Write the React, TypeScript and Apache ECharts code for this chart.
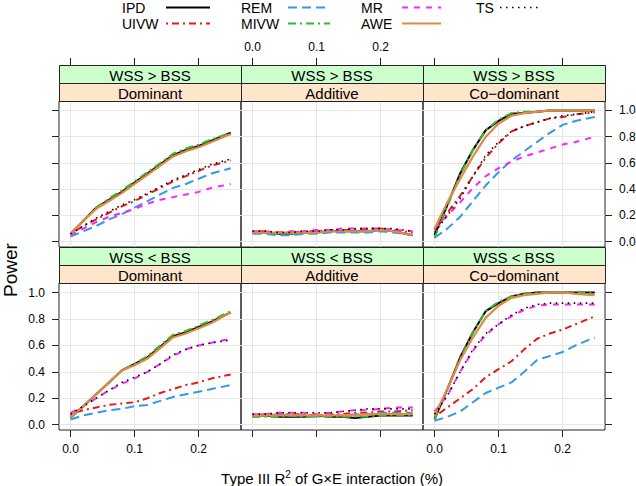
import { useEffect, useRef } from 'react';
import * as echarts from 'echarts';

// ---------------- data ----------------
const X = [0, 0.02, 0.04, 0.06, 0.08, 0.1, 0.12, 0.14, 0.16, 0.18, 0.2, 0.22, 0.25];
const METHODS = ['IPD', 'UIVW', 'REM', 'MIVW', 'MR', 'AWE', 'TS'];
const LEGEND_ORDER = ['IPD', 'REM', 'MR', 'TS', 'UIVW', 'MIVW', 'AWE'];
const ROW_LABELS = ['WSS > BSS', 'WSS < BSS'];
const COL_LABELS = ['Dominant', 'Additive', 'Co\u2212dominant'];
const X_TICKS = [0, 0.1, 0.2];
const Y_TICKS = [0, 0.2, 0.4, 0.6, 0.8, 1.0];

// WSS > BSS
const gtDominant: Record<string, number[]> = {
  IPD: [0.06, 0.16, 0.26, 0.32, 0.38, 0.45, 0.52, 0.59, 0.66, 0.7, 0.73, 0.77, 0.83],
  UIVW: [0.06, 0.12, 0.17, 0.22, 0.27, 0.31, 0.36, 0.41, 0.46, 0.5, 0.54, 0.58, 0.62],
  REM: [0.04, 0.08, 0.12, 0.17, 0.21, 0.26, 0.31, 0.36, 0.41, 0.44, 0.48, 0.52, 0.56],
  MIVW: [0.06, 0.16, 0.26, 0.33, 0.39, 0.46, 0.53, 0.6, 0.67, 0.71, 0.74, 0.78, 0.83],
  MR: [0.05, 0.1, 0.15, 0.19, 0.22, 0.25, 0.29, 0.32, 0.34, 0.36, 0.38, 0.41, 0.44],
  AWE: [0.06, 0.16, 0.25, 0.31, 0.37, 0.44, 0.51, 0.58, 0.65, 0.69, 0.72, 0.76, 0.82],
  TS: [0.06, 0.12, 0.18, 0.23, 0.28, 0.32, 0.37, 0.42, 0.47, 0.51, 0.55, 0.59, 0.63],
};
const gtAdditive: Record<string, number[]> = {
  IPD: [0.07, 0.07, 0.06, 0.06, 0.07, 0.07, 0.08, 0.08, 0.08, 0.08, 0.09, 0.08, 0.05],
  UIVW: [0.08, 0.08, 0.07, 0.07, 0.08, 0.08, 0.09, 0.09, 0.09, 0.1, 0.1, 0.09, 0.07],
  REM: [0.06, 0.06, 0.05, 0.05, 0.06, 0.06, 0.07, 0.07, 0.07, 0.07, 0.08, 0.07, 0.05],
  MIVW: [0.07, 0.07, 0.06, 0.06, 0.07, 0.07, 0.08, 0.08, 0.08, 0.08, 0.09, 0.08, 0.05],
  MR: [0.08, 0.08, 0.07, 0.08, 0.08, 0.09, 0.09, 0.1, 0.1, 0.1, 0.1, 0.09, 0.08],
  AWE: [0.07, 0.07, 0.07, 0.07, 0.07, 0.07, 0.08, 0.08, 0.08, 0.08, 0.09, 0.08, 0.05],
  TS: [0.08, 0.08, 0.07, 0.07, 0.08, 0.08, 0.09, 0.09, 0.1, 0.1, 0.1, 0.1, 0.08],
};
const gtCodominant: Record<string, number[]> = {
  IPD: [0.05, 0.28, 0.52, 0.7, 0.85, 0.92, 0.975, 0.98, 0.99, 1.0, 1.0, 1.0, 1.0],
  UIVW: [0.09, 0.22, 0.35, 0.5, 0.64, 0.75, 0.84, 0.88, 0.91, 0.94, 0.95, 0.97, 0.985],
  REM: [0.03, 0.1, 0.19, 0.31, 0.43, 0.53, 0.62, 0.69, 0.76, 0.83, 0.89, 0.92, 0.95],
  MIVW: [0.03, 0.27, 0.51, 0.7, 0.85, 0.93, 0.98, 0.99, 0.99, 1.0, 1.0, 1.0, 1.0],
  MR: [0.1, 0.2, 0.3, 0.41, 0.5, 0.56, 0.61, 0.65, 0.68, 0.71, 0.74, 0.76, 0.8],
  AWE: [0.1, 0.3, 0.48, 0.65, 0.8, 0.9, 0.96, 0.98, 0.99, 1.0, 1.0, 1.0, 1.0],
  TS: [0.07, 0.2, 0.33, 0.5, 0.66, 0.76, 0.84, 0.88, 0.91, 0.94, 0.96, 0.97, 0.99],
};
// WSS < BSS
const ltDominant: Record<string, number[]> = {
  IPD: [0.06, 0.14, 0.23, 0.32, 0.41, 0.46, 0.51, 0.59, 0.67, 0.7, 0.74, 0.78, 0.85],
  UIVW: [0.08, 0.11, 0.13, 0.15, 0.16, 0.17, 0.2, 0.24, 0.27, 0.3, 0.32, 0.35, 0.38],
  REM: [0.04, 0.07, 0.09, 0.11, 0.12, 0.14, 0.15, 0.18, 0.21, 0.23, 0.25, 0.27, 0.3],
  MIVW: [0.05, 0.14, 0.23, 0.32, 0.41, 0.46, 0.52, 0.6, 0.68, 0.71, 0.75, 0.79, 0.86],
  MR: [0.09, 0.14, 0.2, 0.26, 0.31, 0.35, 0.4, 0.46, 0.52, 0.57, 0.6, 0.62, 0.65],
  AWE: [0.06, 0.14, 0.23, 0.32, 0.41, 0.45, 0.5, 0.58, 0.66, 0.69, 0.73, 0.77, 0.85],
  TS: [0.08, 0.14, 0.2, 0.26, 0.32, 0.36, 0.4, 0.46, 0.53, 0.57, 0.6, 0.62, 0.64],
};
const ltAdditive: Record<string, number[]> = {
  IPD: [0.07, 0.07, 0.06, 0.06, 0.06, 0.07, 0.06, 0.06, 0.05, 0.06, 0.07, 0.07, 0.07],
  UIVW: [0.07, 0.08, 0.08, 0.08, 0.08, 0.07, 0.08, 0.08, 0.09, 0.09, 0.1, 0.1, 0.11],
  REM: [0.06, 0.07, 0.08, 0.07, 0.07, 0.06, 0.07, 0.07, 0.08, 0.08, 0.09, 0.09, 0.09],
  MIVW: [0.06, 0.06, 0.06, 0.07, 0.06, 0.06, 0.06, 0.06, 0.06, 0.06, 0.07, 0.07, 0.07],
  MR: [0.08, 0.08, 0.09, 0.09, 0.09, 0.08, 0.09, 0.1, 0.11, 0.11, 0.12, 0.13, 0.13],
  AWE: [0.07, 0.07, 0.07, 0.07, 0.07, 0.07, 0.07, 0.07, 0.07, 0.08, 0.08, 0.08, 0.08],
  TS: [0.08, 0.08, 0.09, 0.09, 0.09, 0.09, 0.09, 0.1, 0.11, 0.12, 0.12, 0.12, 0.12],
};
const ltCodominant: Record<string, number[]> = {
  IPD: [0.04, 0.27, 0.51, 0.7, 0.86, 0.92, 0.97, 0.99, 1.0, 1.0, 1.0, 1.0, 1.0],
  UIVW: [0.06, 0.13, 0.2, 0.27, 0.36, 0.42, 0.48, 0.57, 0.65, 0.69, 0.72, 0.76, 0.82],
  REM: [0.03, 0.06, 0.1, 0.17, 0.24, 0.28, 0.32, 0.4, 0.49, 0.52, 0.55, 0.6, 0.66],
  MIVW: [0.04, 0.27, 0.5, 0.7, 0.86, 0.93, 0.97, 0.99, 1.0, 1.0, 1.0, 1.0, 1.0],
  MR: [0.1, 0.22, 0.4, 0.56, 0.68, 0.76, 0.82, 0.87, 0.9, 0.91, 0.91, 0.91, 0.91],
  AWE: [0.07, 0.27, 0.49, 0.66, 0.81, 0.9, 0.96, 0.98, 0.99, 1.0, 1.0, 0.99, 0.98],
  TS: [0.08, 0.22, 0.4, 0.57, 0.69, 0.76, 0.83, 0.88, 0.91, 0.92, 0.92, 0.92, 0.92],
};

const PANEL_DATA = [gtDominant, gtAdditive, gtCodominant, ltDominant, ltAdditive, ltCodominant];

// ---------------- styles / layout ----------------
const STYLE: Record<string, { color: string; width: number; dash: any }> = {
  IPD: { color: '#000000', width: 2, dash: 'solid' },
  UIVW: { color: '#E31A1C', width: 2, dash: [2, 4, 7, 4] },
  REM: { color: '#3399E6', width: 2, dash: [9, 5] },
  MIVW: { color: '#33B833', width: 2, dash: [8, 4, 2, 4] },
  MR: { color: '#FF22FF', width: 2, dash: [6, 6] },
  AWE: { color: '#E08A45', width: 2.2, dash: 'solid' },
  TS: { color: '#000000', width: 1.6, dash: [1.5, 4.5] },
};

const FONT = '"Liberation Sans", Arial, Helvetica, sans-serif';
const COL_LEFT = [59, 241, 423];
const PANEL_W = 182;
const STRIP_TOP = [65, 247];
const STRIP_H = 18;
const PLOT_TOP = [101, 283];
const PLOT_BOTTOM = [247, 430];
const X_MIN = -0.018;
const X_MAX = 0.266;
const Y_MIN = -0.04;
const Y_MAX = 1.072;
const AXIS_COLOR = '#222222';
const GRID_COLOR = '#E6E6E6';

const LEG_TEXT_X = [122, 241, 361, 476];
const LEG_LINE = [
  [166, 210],
  [288, 330],
  [402, 441],
  [500, 538],
];
const LEG_Y = [7.5, 23.5];

const fmt = (v: number) => v.toFixed(1);

export default function App() {
  const ref = useRef<HTMLDivElement>(null);

  useEffect(() => {
    document.body.style.margin = '0';
    const chart = echarts.init(ref.current!, null, { renderer: 'svg' });

    const grids: any[] = [];
    const xAxes: any[] = [];
    const yAxes: any[] = [];
    const series: any[] = [];
    const graphics: any[] = [];

    PANEL_DATA.forEach((d, i) => {
      const r = Math.floor(i / 3);
      const c = i % 3;
      grids.push({
        left: COL_LEFT[c],
        top: PLOT_TOP[r],
        width: PANEL_W,
        height: PLOT_BOTTOM[r] - PLOT_TOP[r],
        show: true,
        borderColor: AXIS_COLOR,
        borderWidth: 1,
        backgroundColor: 'rgba(0,0,0,0)',
        containLabel: false,
        outerBoundsMode: 'none',
      });
      xAxes.push({
        type: 'value',
        gridIndex: i,
        min: X_MIN,
        max: X_MAX,
        position: 'bottom',
        axisLine: { show: false, onZero: false },
        axisTick: {
          show: r === 1,
          length: 7,
          inside: false,
          customValues: X_TICKS,
          lineStyle: { color: AXIS_COLOR },
        },
        axisLabel: {
          show: r === 1 && c !== 1,
          customValues: X_TICKS,
          margin: 13,
          fontSize: 12,
          color: '#000',
          fontFamily: FONT,
          formatter: fmt,
        },
        splitLine: { show: true, lineStyle: { color: GRID_COLOR, width: 1 } },
      });
      yAxes.push({
        type: 'value',
        gridIndex: i,
        min: Y_MIN,
        max: Y_MAX,
        position: c === 2 ? 'right' : 'left',
        axisLine: { show: false, onZero: false },
        axisTick: {
          show: c !== 1,
          length: 7,
          inside: false,
          customValues: Y_TICKS,
          lineStyle: { color: AXIS_COLOR },
        },
        axisLabel: {
          show: (c === 0 && r === 1) || (c === 2 && r === 0),
          customValues: Y_TICKS,
          margin: 14,
          fontSize: 12,
          color: '#000',
          fontFamily: FONT,
          formatter: fmt,
        },
        splitLine: { show: true, lineStyle: { color: GRID_COLOR, width: 1 } },
      });
      METHODS.forEach((m, k) => {
        const st = STYLE[m];
        series.push({
          type: 'line',
          name: m,
          xAxisIndex: i,
          yAxisIndex: i,
          data: X.map((x, j) => [x, d[m][j]]),
          symbol: 'none',
          showSymbol: false,
          silent: true,
          z: 2 + k,
          lineStyle: { color: st.color, width: st.width, type: st.dash },
          itemStyle: { color: st.color },
        });
      });
    });

    // top tick axes (above the strips of the upper row)
    COL_LEFT.forEach((left, j) => {
      const gi = grids.length;
      grids.push({
        left,
        top: STRIP_TOP[0],
        width: PANEL_W,
        height: PLOT_TOP[0] - STRIP_TOP[0],
        show: false,
        containLabel: false,
        outerBoundsMode: 'none',
      });
      xAxes.push({
        type: 'value',
        gridIndex: gi,
        min: X_MIN,
        max: X_MAX,
        position: 'top',
        axisLine: { show: false, onZero: false },
        axisTick: {
          show: true,
          length: 7,
          inside: false,
          customValues: X_TICKS,
          lineStyle: { color: AXIS_COLOR },
        },
        axisLabel: {
          show: j === 1,
          customValues: X_TICKS,
          margin: 12,
          fontSize: 12,
          color: '#000',
          fontFamily: FONT,
          formatter: fmt,
        },
        splitLine: { show: false },
      });
      yAxes.push({ type: 'value', gridIndex: gi, min: 0, max: 1, show: false });
    });

    // strips
    [0, 1].forEach((r) => {
      COL_LEFT.forEach((left, c) => {
        const cx = left + PANEL_W / 2;
        graphics.push({
          type: 'rect',
          shape: { x: left + 0.5, y: STRIP_TOP[r] + 0.5, width: PANEL_W, height: STRIP_H },
          style: { fill: '#CCFFCC', stroke: AXIS_COLOR, lineWidth: 1 },
          z: 10,
        });
        graphics.push({
          type: 'text',
          x: cx,
          y: STRIP_TOP[r] + STRIP_H / 2 + 1,
          style: {
            text: ROW_LABELS[r],
            fontSize: 15,
            fontFamily: FONT,
            fill: '#000',
            align: 'center',
            verticalAlign: 'middle',
          },
          z: 11,
        });
        graphics.push({
          type: 'rect',
          shape: { x: left + 0.5, y: STRIP_TOP[r] + STRIP_H + 0.5, width: PANEL_W, height: STRIP_H },
          style: { fill: '#FFE5CC', stroke: AXIS_COLOR, lineWidth: 1 },
          z: 10,
        });
        graphics.push({
          type: 'text',
          x: cx,
          y: STRIP_TOP[r] + STRIP_H * 1.5 + 1,
          style: {
            text: COL_LABELS[c],
            fontSize: 15,
            fontFamily: FONT,
            fill: '#000',
            align: 'center',
            verticalAlign: 'middle',
          },
          z: 11,
        });
      });
    });

    // legend
    LEGEND_ORDER.forEach((m, k) => {
      const col = k % 4;
      const row = Math.floor(k / 4);
      const st = STYLE[m];
      graphics.push({
        type: 'text',
        x: LEG_TEXT_X[col],
        y: LEG_Y[row],
        style: {
          text: m,
          fontSize: 14,
          fontFamily: FONT,
          fill: '#000',
          align: 'left',
          verticalAlign: 'middle',
        },
      });
      graphics.push({
        type: 'line',
        shape: { x1: LEG_LINE[col][0], y1: LEG_Y[row], x2: LEG_LINE[col][1], y2: LEG_Y[row] },
        style: {
          stroke: st.color,
          lineWidth: st.width,
          lineDash: Array.isArray(st.dash) ? st.dash : null,
        },
      });
    });

    // axis titles
    graphics.push({
      type: 'text',
      x: 10,
      y: 270,
      rotation: Math.PI / 2,
      style: {
        text: 'Power',
        fontSize: 19,
        fontFamily: FONT,
        fill: '#000',
        align: 'center',
        verticalAlign: 'middle',
      },
    });
    graphics.push({
      type: 'text',
      x: 332,
      y: 478,
      style: {
        text: '{a|Type III R}{s|2}{a| of G\u00D7E interaction (%)}',
        fontFamily: FONT,
        fill: '#000',
        align: 'center',
        verticalAlign: 'middle',
        rich: {
          a: { fontSize: 15, fontFamily: FONT, fill: '#000', lineHeight: 18 },
          s: { fontSize: 10, fontFamily: FONT, fill: '#000', verticalAlign: 'top', lineHeight: 10 },
        },
      },
    });

    chart.setOption({
      animation: false,
      textStyle: { fontFamily: FONT },
      grid: grids,
      xAxis: xAxes,
      yAxis: yAxes,
      series,
      graphic: { elements: graphics },
    });

    return () => chart.dispose();
  }, []);

  return <div ref={ref} style={{ width: 636, height: 486 }} />;
}
